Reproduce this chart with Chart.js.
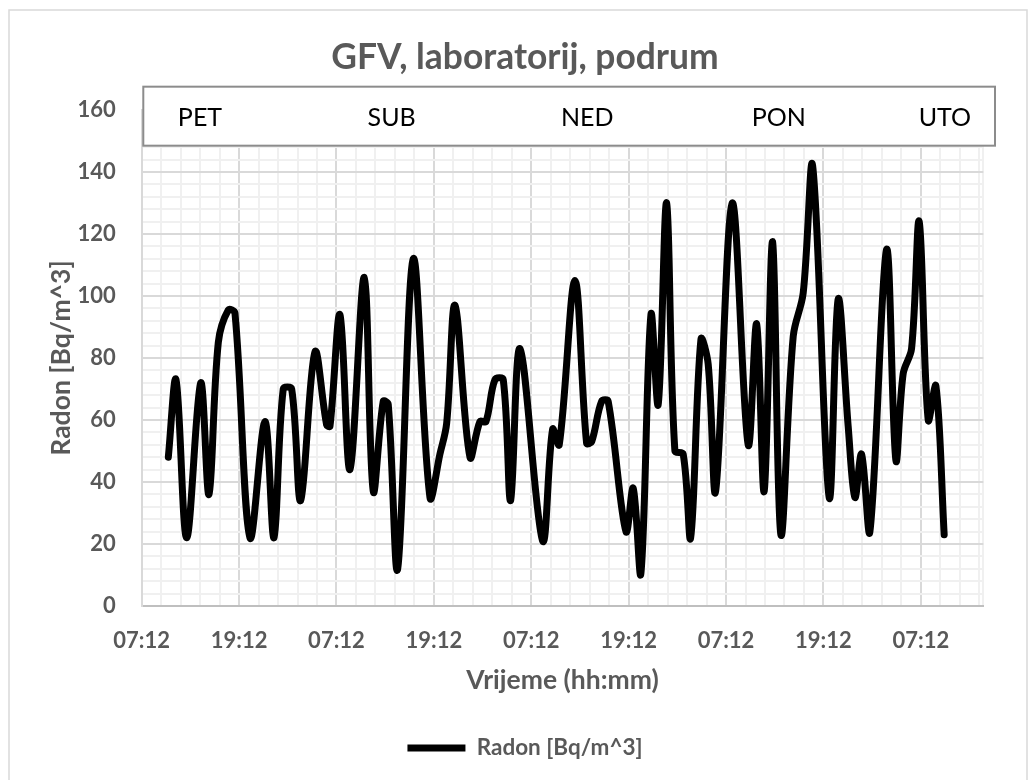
<!DOCTYPE html>
<html>
<head>
<meta charset="utf-8">
<script src="https://cdn.jsdelivr.net/npm/chart.js@4.4.1/dist/chart.umd.min.js"></script>
<style>
  html, body { margin: 0; padding: 0; background: #ffffff; }
  #wrap { width: 1036px; height: 780px; position: relative; }
</style>
</head>
<body>
<div id="wrap"><canvas id="radonChart"></canvas></div>
<script>
// Radon readings: time in hours counted from 07:12 on the first day
const timeHours = [3.28, 4.23, 5.54, 7.27, 8.29, 9.44, 10.67, 11.49, 13.34, 15.19, 16.30, 17.44, 18.48, 19.59,
  21.35, 22.79, 23.20, 24.43, 25.66, 27.42, 28.53, 29.76, 30.38, 31.54, 33.46, 35.52, 36.75, 37.58, 38.60,
  40.45, 41.68, 42.42, 43.53, 44.55, 45.46, 46.61, 49.40, 50.63, 51.45, 53.38, 54.82, 55.44, 56.67, 57.48,
  59.67, 60.56, 61.51, 62.75, 63.64, 64.68, 65.70, 66.72, 67.64, 68.91, 69.80, 70.72, 72.76, 74.73, 75.77,
  76.70, 77.74, 78.76, 80.28, 81.51, 82.67, 84.71, 85.82, 87.05, 87.88, 88.70, 89.73, 91.78, 92.93, 93.83,
  94.86, 95.80, 96.91, 97.86, 98.88];

const radonValues = [48, 73, 22, 72, 36, 85, 95.5, 94.5, 22, 59.5, 22, 70, 70, 34,
  82, 58.4, 58, 94, 44, 106, 37, 66, 65, 12, 112, 35, 49, 59, 97,
  48, 59.5, 59.5, 73, 73, 34, 83, 21, 57, 52, 105, 52.5, 53, 66, 66,
  24, 38, 10.5, 94, 65, 130, 50, 49, 22, 86, 78, 37, 130, 52, 91,
  37, 117.5, 23, 87, 101, 142, 35, 99, 58, 35, 49, 24, 115, 47, 75,
  83, 124, 60, 71, 23];

const xTickLabels = ['07:12', '19:12', '07:12', '19:12', '07:12', '19:12', '07:12', '19:12', '07:12'];
const dayNames = ['PET', 'SUB', 'NED', 'PON', 'UTO'];

const seriesName = 'Radon [Bq/m^3]';
const chartTitle = 'GFV, laboratorij, podrum';
const xAxisTitle = 'Vrijeme (hh:mm)';

const FONT = 'Lato, "Open Sans", sans-serif';
const TEXT_GREY = '#595959';
const MAJOR_GRID = '#d9d9d9';
const MINOR_GRID = '#f0f0f0';

const X_MAX = 103.7;      // hours shown on the time axis
const X_MINOR = 2.4;      // minor grid step (hours)
const Y_MINOR = 4;        // minor grid step (Bq/m^3)
const LEFT_PAD = 14;
const PLOT_LEFT = 141.7;
const PLOT_RIGHT = 983.3;

// white background and thin frame around the whole chart
const frame = {
  id: 'frame',
  beforeDraw(chart) {
    const ctx = chart.ctx;
    ctx.save();
    ctx.fillStyle = '#ffffff';
    ctx.fillRect(0, 0, chart.width, chart.height);
    ctx.strokeStyle = '#d9d9d9';
    ctx.lineWidth = 1.5;
    ctx.strokeRect(9, 10, 1018, 775);
    ctx.restore();
  }
};

// boxed row of weekday names above the plot
const dayBanner = {
  id: 'dayBanner',
  afterDatasetsDraw(chart, args, opts) {
    const { ctx, chartArea } = chart;
    const xs = chart.scales.x;
    const left = chartArea.left + 1.6;
    const right = chartArea.right + 11.7;
    const top = chartArea.top - 23.3;
    const bottom = chartArea.top + 35.7;
    ctx.save();
    ctx.fillStyle = '#ffffff';
    ctx.fillRect(left, top, right - left, bottom - top);
    ctx.strokeStyle = '#8c8c8c';
    ctx.lineWidth = 2;
    ctx.strokeRect(left, top, right - left, bottom - top);
    ctx.fillStyle = '#000000';
    ctx.font = '25px ' + FONT;
    ctx.textAlign = 'center';
    ctx.textBaseline = 'alphabetic';
    dayNames.forEach((name, i) => {
      ctx.fillText(name, xs.getPixelForValue(opts.centers[i]), bottom - 20);
    });
    ctx.restore();
  }
};

const points = timeHours.map((h, i) => ({ x: h, y: radonValues[i] }));

new Chart(document.getElementById('radonChart'), {
  type: 'line',
  data: {
    datasets: [{
      label: seriesName,
      data: points,
      borderColor: '#000000',
      backgroundColor: '#000000',
      borderWidth: 7,
      borderCapStyle: 'round',
      borderJoinStyle: 'round',
      pointRadius: 0,
      pointHoverRadius: 0,
      tension: 0.35,
      fill: false
    }]
  },
  options: {
    responsive: true,
    maintainAspectRatio: false,
    devicePixelRatio: 1,
    animation: false,
    events: [],
    layout: { padding: { left: LEFT_PAD, right: 0, top: 0, bottom: 10.75 } },
    plugins: {
      title: {
        display: true,
        text: chartTitle,
        color: TEXT_GREY,
        font: { family: FONT, size: 35.4, weight: 'bold', lineHeight: 1.2 },
        padding: { top: 36.8, bottom: 30.7 }
      },
      legend: {
        position: 'bottom',
        labels: {
          usePointStyle: true,
          pointStyle: 'line',
          pointStyleWidth: 58,
          padding: 37.75,
          color: TEXT_GREY,
          font: { family: FONT, size: 22.5, weight: 'bold' }
        }
      },
      tooltip: { enabled: false },
      dayBanner: { centers: [7.18, 30.8, 54.9, 78.5, 98.97] }
    },
    scales: {
      x: {
        type: 'linear',
        min: 0,
        max: X_MAX,
        afterBuildTicks(scale) {
          const ticks = [];
          for (let i = 0; i * X_MINOR <= X_MAX + 1e-9; i++) ticks.push({ value: +(i * X_MINOR).toFixed(4) });
          ticks.push({ value: X_MAX });
          scale.ticks = ticks;
        },
        afterFit(scale) { scale.height = 93; },
        grid: {
          color: c => (c.index % 5 === 0 && c.index / 5 < xTickLabels.length) ? MAJOR_GRID : MINOR_GRID,
          lineWidth: 2,
          drawTicks: false
        },
        border: { color: '#bfbfbf', width: 2 },
        ticks: {
          autoSkip: false,
          maxRotation: 0,
          padding: 22,
          color: TEXT_GREY,
          font: { family: FONT, size: 22, weight: 'bold' },
          callback: (v, i) => (i % 5 === 0 && i / 5 < xTickLabels.length) ? xTickLabels[i / 5] : ''
        },
        title: {
          display: true,
          text: xAxisTitle,
          color: TEXT_GREY,
          font: { family: FONT, size: 26.5, weight: 'bold' },
          padding: { top: 0, bottom: 3 }
        }
      },
      y: {
        min: 0,
        max: 160,
        afterBuildTicks(scale) {
          const ticks = [];
          for (let v = 0; v <= 160; v += Y_MINOR) ticks.push({ value: v });
          scale.ticks = ticks;
        },
        afterFit(scale) { scale.width = PLOT_LEFT - LEFT_PAD; },
        grid: {
          color: c => (c.index % 5 === 0) ? MAJOR_GRID : MINOR_GRID,
          lineWidth: 2,
          drawTicks: false
        },
        border: { color: MAJOR_GRID, width: 2 },
        ticks: {
          autoSkip: false,
          padding: 26,
          color: TEXT_GREY,
          font: { family: FONT, size: 22, weight: 'bold' },
          callback: v => (v % 20 === 0) ? v : ''
        },
        title: {
          display: true,
          text: seriesName,
          color: TEXT_GREY,
          font: { family: FONT, size: 26.5, weight: 'bold' },
          padding: { top: 32, bottom: 0 }
        }
      },
      // empty right-hand margin of the plot
      yMargin: {
        position: 'right',
        display: true,
        grid: { display: false },
        border: { display: false },
        ticks: { display: false },
        afterFit(scale) { scale.width = 1036 - PLOT_RIGHT; }
      }
    }
  },
  plugins: [frame, dayBanner]
});
</script>
</body>
</html>
